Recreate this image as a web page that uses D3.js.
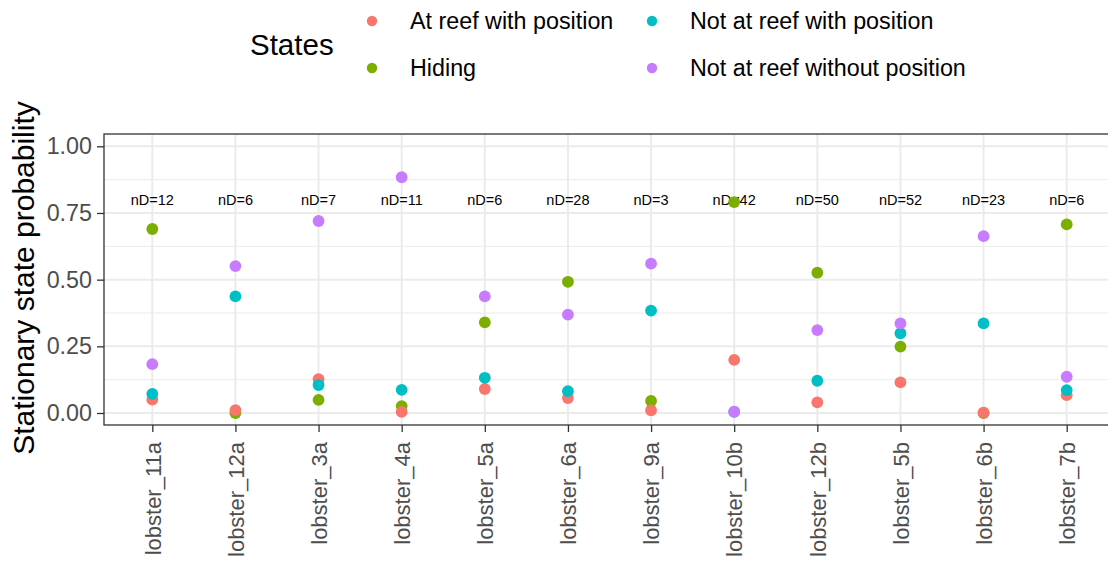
<!DOCTYPE html>
<html>
<head>
<style>
  body { margin: 0; background: #fff; }
  text { font-family: "Liberation Sans", Arial, sans-serif; }
</style>
</head>
<body>
<script src="https://d3js.org/d3.v7.min.js"></script>
<script>
const lobsters = ["lobster_11a", "lobster_12a", "lobster_3a", "lobster_4a", "lobster_5a", "lobster_6a",
                  "lobster_9a", "lobster_10b", "lobster_12b", "lobster_5b", "lobster_6b", "lobster_7b"]
const nD = [12, 6, 7, 11, 6, 28, 3, 42, 50, 52, 23, 6]

const states = ["At reef with position", "Hiding", "Not at reef with position", "Not at reef without position"]
const colors = ["#F8766D", "#7CAE00", "#00BFC4", "#C77CFF"]

// stationary probabilities per state, in lobster order
const atReef      = [0.050, 0.011, 0.127, 0.004, 0.090, 0.056, 0.010, 0.199, 0.040, 0.115, 0.001, 0.067]
const hiding      = [0.690, 0.000, 0.049, 0.026, 0.340, 0.492, 0.045, 0.791, 0.526, 0.249, 0.000, 0.707]
const notReefPos  = [0.072, 0.437, 0.105, 0.087, 0.132, 0.082, 0.384, 0.004, 0.121, 0.299, 0.336, 0.086]
const notReefNoPos = [0.183, 0.551, 0.720, 0.884, 0.437, 0.369, 0.560, 0.005, 0.311, 0.336, 0.663, 0.136]

const yTicks = [0, 0.25, 0.5, 0.75, 1]

const w = 1108, h = 563
const svg = d3.select("body").append("svg").attr("width", w).attr("height", h)

const panel = { left: 104, right: 1120, top: 134, bottom: 425 }

const x = d3.scalePoint().domain(lobsters).range([152.3, 1066.7])
const y = d3.scaleLinear().domain([0, 1]).range([413, 146.3])

// panel grid
const g = svg.append("g")
const minor = [0.125, 0.375, 0.625, 0.875]
g.selectAll(".minor").data(minor).enter().append("line")
  .attr("x1", panel.left).attr("x2", panel.right)
  .attr("y1", d => y(d)).attr("y2", d => y(d))
  .attr("stroke", "#EBEBEB").attr("stroke-width", 1)
g.selectAll(".major").data(yTicks).enter().append("line")
  .attr("x1", panel.left).attr("x2", panel.right)
  .attr("y1", d => y(d)).attr("y2", d => y(d))
  .attr("stroke", "#EBEBEB").attr("stroke-width", 2)
g.selectAll(".vmajor").data(lobsters).enter().append("line")
  .attr("x1", d => x(d)).attr("x2", d => x(d))
  .attr("y1", panel.top).attr("y2", panel.bottom)
  .attr("stroke", "#EBEBEB").attr("stroke-width", 2)

// nD labels
svg.selectAll(".nd").data(lobsters).enter().append("text")
  .attr("x", d => x(d)).attr("y", y(0.8))
  .attr("text-anchor", "middle").attr("dy", "0.35em")
  .attr("font-size", 14.5).attr("fill", "#000")
  .text((d, i) => "nD=" + nD[i])

// points, drawn in this order so overlaps look right
const series = [
  { s: 1, v: hiding },
  { s: 0, v: atReef },
  { s: 2, v: notReefPos },
  { s: 3, v: notReefNoPos }
]
series.forEach(ser => {
  svg.append("g").selectAll("circle").data(lobsters).enter().append("circle")
    .attr("cx", d => x(d))
    .attr("cy", (d, i) => y(ser.v[i]))
    .attr("r", 5.9)
    .attr("fill", colors[ser.s])
})

// border
svg.append("rect")
  .attr("x", panel.left).attr("y", panel.top)
  .attr("width", panel.right - panel.left).attr("height", panel.bottom - panel.top)
  .attr("fill", "none").attr("stroke", "#333333").attr("stroke-width", 1.3)

// y axis
const yAxis = d3.axisLeft(y).tickValues(yTicks).tickFormat(d3.format(".2f")).tickSize(7).tickPadding(5)
const ya = svg.append("g").attr("transform", "translate(" + panel.left + ",0)").call(yAxis)
ya.select(".domain").remove()
ya.selectAll(".tick line").attr("stroke", "#333333").attr("stroke-width", 1.3)
ya.selectAll(".tick text").attr("font-size", 23.3).attr("fill", "#4D4D4D")
  .attr("font-family", "Liberation Sans, Arial, sans-serif")

// x axis
const xAxis = d3.axisBottom(x).tickSize(7).tickPadding(0)
const xa = svg.append("g").attr("transform", "translate(0," + panel.bottom + ")").call(xAxis)
xa.select(".domain").remove()
xa.selectAll(".tick line").attr("stroke", "#333333").attr("stroke-width", 1.3)
xa.selectAll(".tick text")
  .attr("font-size", 22).attr("fill", "#4D4D4D")
  .attr("font-family", "Liberation Sans, Arial, sans-serif")
  .attr("text-anchor", "end")
  .attr("transform", "translate(0,17) rotate(-90)")
  .attr("x", 0).attr("y", 0).attr("dy", "0.35em")

// y title
svg.append("text")
  .attr("transform", "translate(34,278) rotate(-90)")
  .attr("text-anchor", "middle")
  .attr("font-size", 30).attr("fill", "#000")
  .text("Stationary state probability")

// legend
svg.append("text").attr("x", 250).attr("y", 45).attr("dy", "0.35em")
  .attr("font-size", 29.5).attr("fill", "#000").text("States")

const legendPos = [[372, 21], [372, 68], [652, 21], [652, 68]]
const lg = svg.append("g").selectAll("g").data(states).enter().append("g")
  .attr("transform", (d, i) => "translate(" + legendPos[i][0] + "," + legendPos[i][1] + ")")
lg.append("circle").attr("r", 5.2).attr("fill", (d, i) => colors[i])
lg.append("text").attr("x", 38).attr("dy", "0.35em")
  .attr("font-size", 23.3).attr("fill", "#000").text(d => d)
</script>
</body>
</html>
